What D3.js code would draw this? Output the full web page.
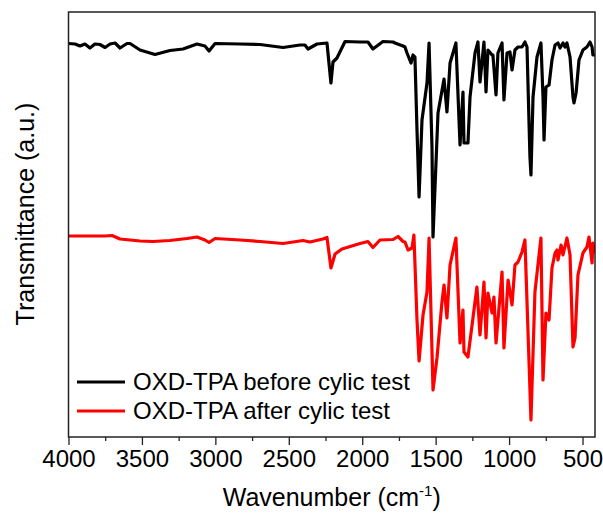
<!DOCTYPE html>
<html>
<head>
<meta charset="utf-8">
<script src="https://cdn.jsdelivr.net/npm/d3@7"></script>
<style>
  html, body { margin: 0; padding: 0; background: #fff; }
  svg { display: block; font-family: "Liberation Sans", Arial, sans-serif; }
</style>
</head>
<body>
<svg id="chart" width="603" height="520"></svg>
<script>
// FTIR spectra of OXD-TPA: wavenumber (cm^-1) and transmittance (a.u., offset)
const beforeWavenumber = [
  4000, 3956, 3922, 3888, 3854, 3820, 3786, 3751, 3717, 3683, 3649, 3602, 3581, 3513,
  3411, 3309, 3220, 3125, 3071, 3043, 3002, 2832, 2696, 2539, 2424, 2390, 2369, 2308,
  2240, 2213, 2199, 2172, 2117, 2015, 1961, 1927, 1859, 1790, 1777, 1750, 1722, 1709,
  1695, 1668, 1654, 1641, 1627, 1613, 1593, 1559, 1545, 1525, 1518, 1484, 1443, 1423,
  1402, 1362, 1334, 1314, 1307, 1280, 1266, 1232, 1212, 1198, 1171, 1157, 1144, 1116,
  1110, 1089, 1076, 1048, 1035, 1014, 994, 980, 960, 939, 912, 892, 878, 858,
  851, 837, 810, 783, 769, 762, 749, 728, 708, 687, 667, 653, 633, 619,
  606, 585, 565, 558, 544, 524, 497, 470, 449, 435, 429, 415
];
const beforeTransmittance = [
  78.7, 78.6, 78.2, 78.6, 77.8, 78.6, 78.5, 77.9, 78.6, 78.8, 77.8, 78.7, 78.7, 77.4,
  76.5, 77.3, 77.6, 78.6, 78.2, 77.2, 78.7, 78.6, 78.5, 77.9, 78.4, 78.4, 77.6, 78.6,
  78.8, 70.8, 75.0, 75.8, 79.1, 79.0, 79.0, 77.6, 79.1, 79.0, 78.8, 78.5, 78.2, 78.0,
  76.8, 74.8, 76.4, 76.0, 61.4, 48.0, 63.4, 70.8, 78.8, 58.0, 40.0, 64.8, 71.6, 65.0,
  74.8, 78.8, 58.4, 69.0, 58.8, 58.8, 68.0, 76.8, 79.0, 71.0, 79.0, 69.0, 77.4, 76.4,
  76.4, 68.4, 76.8, 78.8, 67.4, 76.8, 77.0, 73.4, 77.4, 78.0, 78.0, 79.0, 78.0, 56.0,
  52.4, 68.0, 76.0, 78.8, 68.0, 59.4, 70.0, 70.4, 75.4, 78.4, 78.8, 77.8, 78.8, 78.0,
  78.8, 76.0, 68.0, 66.8, 68.8, 75.4, 77.4, 78.0, 79.0, 78.0, 76.4, 76.4
];

const afterWavenumber = [
  4000, 3888, 3786, 3751, 3704, 3649, 3513, 3425, 3309, 3193, 3125, 3071, 3043, 3002,
  2832, 2696, 2539, 2403, 2356, 2267, 2240, 2213, 2185, 2138, 2015, 1961, 1927, 1879,
  1790, 1756, 1722, 1709, 1688, 1661, 1648, 1627, 1613, 1586, 1559, 1545, 1518, 1491,
  1457, 1443, 1423, 1402, 1362, 1334, 1314, 1307, 1280, 1219, 1198, 1171, 1157, 1144,
  1116, 1103, 1089, 1048, 1035, 1007, 980, 960, 939, 912, 892, 851, 824, 783,
  769, 749, 728, 708, 687, 674, 667, 646, 633, 606, 585, 565, 551, 531,
  497, 470, 456, 435, 429, 415
];
const afterTransmittance = [
  40.2, 40.2, 40.2, 40.2, 40.3, 39.6, 39.2, 39.1, 39.3, 39.7, 40.0, 39.4, 38.9, 39.7,
  39.4, 39.1, 38.7, 39.3, 39.0, 39.6, 39.9, 33.8, 36.6, 37.6, 38.7, 39.1, 37.9, 39.4,
  39.5, 40.1, 39.1, 39.0, 37.4, 37.8, 40.4, 23.4, 15.2, 24.4, 29.0, 39.8, 9.4, 15.8,
  27.0, 30.4, 23.8, 34.4, 39.8, 18.8, 25.4, 17.0, 16.0, 30.0, 20.4, 31.0, 19.8, 28.8,
  24.8, 28.0, 18.8, 33.0, 17.8, 31.4, 26.4, 34.4, 35.0, 37.0, 39.4, 3.4, 29.0, 39.8,
  11.4, 24.8, 23.4, 33.8, 36.8, 37.4, 35.4, 38.4, 36.4, 39.8, 36.4, 18.0, 19.8, 32.4,
  36.8, 38.0, 40.0, 34.8, 38.8, 37.0
];

const majorTicks = [4000, 3500, 3000, 2500, 2000, 1500, 1000, 500];
const minorTicks = [3750, 3250, 2750, 2250, 1750, 1250, 750];

const seriesNames = ["OXD-TPA before cylic test", "OXD-TPA after cylic test"];
const seriesColors = ["#000000", "#ff0000"];

const xTitle = "Wavenumber (cm";
const xTitleSup = "-1";
const yTitle = "Transmittance (a.u.)";

// Plot frame
const frame = { left: 68.5, right: 595, top: 12, bottom: 437 };

const svg = d3.select("#chart");

const x = d3.scaleLinear().domain([4000, 415]).range([frame.left, frame.right]);
const y = d3.scaleLinear().domain([0, 85]).range([frame.bottom, frame.top]);

const series = [
  { name: seriesNames[1], color: seriesColors[1], wn: afterWavenumber, t: afterTransmittance },
  { name: seriesNames[0], color: seriesColors[0], wn: beforeWavenumber, t: beforeTransmittance }
];

const line = d3.line()
  .x(d => x(d[0]))
  .y(d => y(d[1]))
  .curve(d3.curveLinear);

const clip = svg.append("defs").append("clipPath").attr("id", "plotclip");
clip.append("rect").attr("x", frame.left).attr("y", frame.top)
  .attr("width", frame.right - frame.left).attr("height", frame.bottom - frame.top);

const plot = svg.append("g").attr("clip-path", "url(#plotclip)");
series.forEach(s => {
  plot.append("path")
    .datum(d3.zip(s.wn, s.t))
    .attr("d", line)
    .attr("fill", "none")
    .attr("stroke", s.color)
    .attr("stroke-width", 3.2)
    .attr("stroke-linejoin", "round")
    .attr("stroke-linecap", "round");
});

// Bottom axis: labelled major ticks and short minor ticks, pointing outward
const majorAxis = d3.axisBottom(x)
  .tickValues(majorTicks)
  .tickFormat(d3.format("d"))
  .tickSizeInner(8)
  .tickSizeOuter(0)
  .tickPadding(5);
const gMajor = svg.append("g")
  .attr("transform", `translate(0,${frame.bottom})`)
  .call(majorAxis);
gMajor.select(".domain").remove();
gMajor.selectAll(".tick line").attr("stroke", "#222").attr("stroke-width", 1.3);
gMajor.selectAll(".tick text")
  .attr("fill", "#000")
  .attr("font-size", 24)
  .attr("font-family", "Liberation Sans, Arial, sans-serif");

const minorAxis = d3.axisBottom(x)
  .tickValues(minorTicks)
  .tickFormat("")
  .tickSizeInner(4)
  .tickSizeOuter(0);
const gMinor = svg.append("g")
  .attr("transform", `translate(0,${frame.bottom})`)
  .call(minorAxis);
gMinor.select(".domain").remove();
gMinor.selectAll(".tick line").attr("stroke", "#222").attr("stroke-width", 1.3);

// Frame
svg.append("rect")
  .attr("x", frame.left).attr("y", frame.top)
  .attr("width", frame.right - frame.left).attr("height", frame.bottom - frame.top)
  .attr("fill", "none")
  .attr("stroke", "#222")
  .attr("stroke-width", 1.5);

// Axis titles
const xt = svg.append("text")
  .attr("x", (frame.left + frame.right) / 2)
  .attr("y", 506)
  .attr("text-anchor", "middle")
  .attr("font-size", 25)
  .attr("fill", "#000");
xt.append("tspan").text(xTitle);
xt.append("tspan").attr("font-size", 15).attr("dy", -10).text(xTitleSup);
xt.append("tspan").attr("dy", 10).text(")");

svg.append("text")
  .attr("transform", "translate(34,214) rotate(-90)")
  .attr("text-anchor", "middle")
  .attr("font-size", 25)
  .attr("fill", "#000")
  .text(yTitle);

// Legend
const legend = svg.append("g");
seriesNames.forEach((name, i) => {
  const ly = 382 + i * 29;
  legend.append("line")
    .attr("x1", 77).attr("x2", 125)
    .attr("y1", ly).attr("y2", ly)
    .attr("stroke", seriesColors[i])
    .attr("stroke-width", 3);
  legend.append("text")
    .attr("x", 133).attr("y", ly + 8)
    .attr("font-size", 24)
    .attr("fill", "#000")
    .text(name);
});
</script>
</body>
</html>
